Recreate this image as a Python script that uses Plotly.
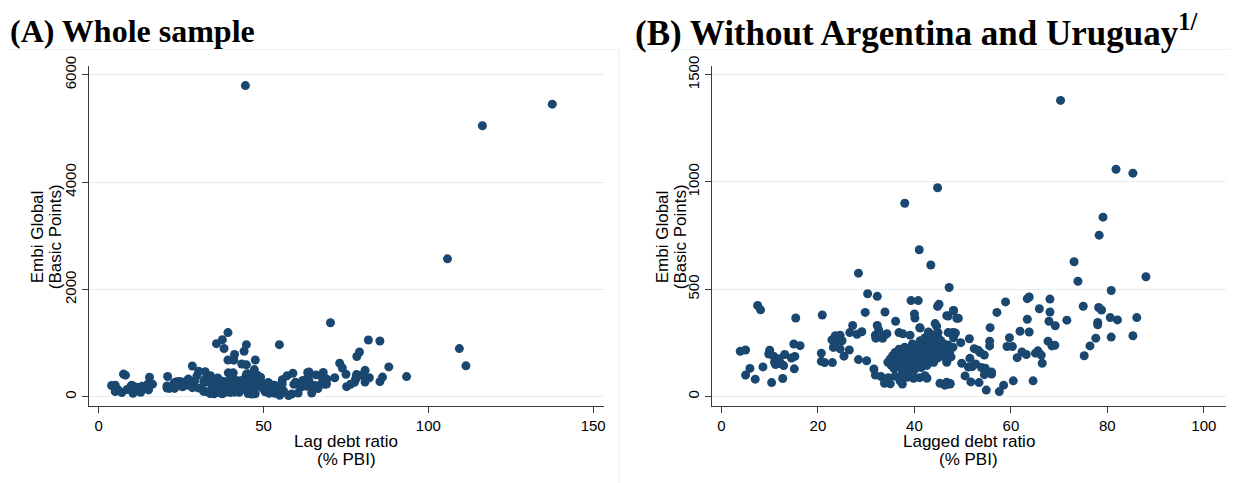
"""
EMBI spread vs lagged debt ratio - two scatter panels (Stata look)
"""
import plotly.graph_objs as go

# Panel B: sample without Argentina and Uruguay (debt % GDP, EMBI bps)
debt_b = [
    3.9, 5.0, 5.9, 5.0, 7.0, 7.5, 8.1, 8.6, 10.0, 9.8, 10.4, 10.8, 11.3, 11.9, 11.2,
    12.2, 13.1, 12.9, 12.7, 14.5, 15.2, 15.0, 16.3, 15.1, 15.4, 11.0, 12.0,
    20.9, 20.7, 20.7, 21.4, 23.0, 22.9, 23.6, 24.3, 24.6, 23.7, 25.0, 23.2, 24.6, 25.4,
    26.5, 26.6, 27.2, 28.1, 29.1, 28.4, 30.1, 28.4, 29.8, 30.3, 32.3, 31.9, 32.3, 32.6,
    32.0, 33.4, 33.8, 34.3, 33.9, 36.1, 36.8, 37.6, 39.1, 31.6, 31.9, 33.1, 33.8, 33.9,
    35.0, 34.6, 37.0, 37.5,
    34.5, 35.0, 35.2, 35.5, 35.8, 36.0, 36.2, 36.5, 36.8, 37.0, 37.2, 37.5, 37.6, 37.8,
    38.0, 38.2, 38.4, 38.6, 38.8, 39.0, 39.2, 39.4, 39.6, 39.8, 40.0, 40.2, 40.4, 40.6,
    40.8, 41.0, 41.2, 41.4, 41.6, 41.8, 42.0, 42.2, 42.4, 42.6, 42.8, 43.0, 43.3, 43.5,
    43.8, 44.0, 44.3, 44.6, 44.9, 45.2, 45.5, 45.8, 46.1, 46.4, 46.7, 47.0, 47.3, 47.6,
    48.0, 36.0, 37.2, 38.5, 39.8, 40.1, 41.1, 42.2, 42.6, 38.6, 37.5, 43.6, 44.3, 45.0,
    46.2, 46.3, 45.1, 43.9, 42.2, 42.9, 41.2, 40.1,
    39.3, 40.8, 40.0, 40.1, 41.1, 42.9, 43.4, 44.3, 44.6, 44.8, 45.1, 46.7, 47.2, 48.1,
    48.8, 44.9, 47.0, 48.1, 45.3, 46.7, 47.0, 41.0, 38.0, 44.8, 41.2, 42.2, 43.6, 44.3,
    46.3, 47.0, 46.7, 46.3, 47.4,
    58.9, 57.1, 63.4, 63.8, 68.1, 65.9, 68.1, 71.6, 67.9, 69.2, 63.4, 63.8, 61.9, 59.7,
    59.2, 60.3, 55.7, 55.6, 55.6, 61.3, 62.3, 63.2, 65.1, 65.6, 66.3, 66.5, 67.7, 68.5,
    69.1, 64.6, 60.5, 58.5, 57.6, 54.9, 53.4, 51.7, 50.5, 49.8, 51.5, 51.2, 52.0, 52.7,
    53.9, 54.7, 54.5, 56.0, 56.0, 54.5, 52.4, 53.2, 53.6, 51.4, 49.6, 48.1, 48.5, 47.6,
    48.1, 49.1, 47.0, 47.0, 47.0, 47.4,
    75.0, 78.2, 78.8, 78.0, 78.0, 80.6, 82.1, 86.1, 77.6, 76.4, 75.2, 80.8, 85.3, 73.1,
    73.9, 88.0, 80.8, 70.3, 81.8, 85.3, 79.1, 78.3,
]
embi_b = [
    211, 217, 131, 100, 81, 424, 404, 138, 216, 198, 65, 188, 169, 176, 149,
    154, 196, 144, 84, 179, 187, 245, 237, 129, 366, 160, 165,
    380, 202, 164, 158, 158, 264, 283, 275, 286, 252, 260, 229, 222, 188,
    217, 298, 331, 290, 302, 172, 167, 575, 392, 479, 467, 286, 331, 310,
    272, 271, 286, 293, 394, 351, 298, 292, 286, 128, 100, 93, 62, 73,
    59, 88, 73, 58,
    160, 175, 145, 190, 130, 205, 165, 150, 220, 180, 140, 200, 120, 165,
    230, 150, 190, 110, 175, 210, 140, 160, 245, 185, 125, 200, 170, 225,
    150, 190, 260, 135, 175, 210, 160, 235, 190, 145, 200, 170, 250, 185,
    215, 160, 200, 240, 180, 215, 260, 190, 230, 205, 160, 240, 210, 185,
    230, 95, 80, 90, 85, 88, 88, 97, 85, 93, 108, 255, 255, 270,
    233, 222, 207, 161, 207, 219, 237, 222,
    447, 447, 385, 366, 321, 301, 613, 340, 328, 420, 430, 377, 508, 401,
    365, 298, 298, 298, 62, 67, 58, 684, 901, 973, 319, 274, 289, 274,
    243, 190, 172, 53, 58,
    441, 392, 456, 464, 454, 409, 394, 356, 351, 330, 360, 301, 304, 274,
    233, 233, 321, 258, 236, 181, 208, 196, 202, 213, 193, 155, 258, 236,
    239, 73, 73, 53, 23, 30, 65, 68, 96, 155, 178, 137, 140, 152,
    135, 132, 193, 114, 105, 102, 223, 216, 205, 269, 251, 274, 296, 296,
    400, 365, 375, 220, 178, 61,
    421, 415, 403, 345, 334, 368, 357, 368, 272, 236, 190, 277, 283, 628,
    537, 558, 494, 1380, 1059, 1041, 836, 752,
]

# Extra observations of Argentina and Uruguay (only in panel A)
debt_au = [44.5, 116.4, 137.6, 105.8, 109.4, 111.4, 93.4, 39.2, 37.5, 35.7,
           44.1, 54.8, 41.2, 39.2, 44.8, 47.5]
embi_au = [5800, 5052, 5454, 2572, 900, 578, 377, 1198, 1064, 991,
           851, 973, 790, 687, 596, 687]

debt_a = debt_b + debt_au
embi_a = embi_b + embi_au

# page has an 8px body margin, so the figure is drawn 8px in from the corner
OFF = 8
W, H = 1239 - OFF, 483 - OFF
DOT = '#1a476f'
GRID = '#e4ecef'
AXIS = '#3a3a3a'
SANS = 'Liberation Sans, Arial, sans-serif'
SERIF = 'Liberation Serif, Times New Roman, serif'


def px_x(p):
    # screen pixel -> paper x
    return (p - OFF) / W


def px_y(p):
    # screen pixel -> paper y
    return 1 - (p - OFF) / H


fig = go.Figure()

fig.add_trace(go.Scatter(
    x=debt_a, y=embi_a, mode='markers', xaxis='x', yaxis='y',
    marker=dict(color=DOT, size=9, line=dict(width=0)),
    showlegend=False, hoverinfo='skip'
))
fig.add_trace(go.Scatter(
    x=debt_b, y=embi_b, mode='markers', xaxis='x2', yaxis='y2',
    marker=dict(color=DOT, size=9, line=dict(width=0)),
    showlegend=False, hoverinfo='skip'
))

ydom = [px_y(404), px_y(56.7)]

common_x = dict(
    showline=True, linecolor=AXIS, linewidth=1, ticks='outside', ticklen=6,
    tickcolor=AXIS, showgrid=False, zeroline=False,
    tickfont=dict(family=SANS, size=15, color='black'),
)
common_y = dict(
    showline=True, linecolor=AXIS, linewidth=1, ticks='outside', ticklen=6,
    tickcolor=AXIS, showgrid=True, gridcolor=GRID, gridwidth=1, zeroline=False,
    tickangle=-90, tickfont=dict(family=SANS, size=15, color='black'),
)

fig.update_layout(
    width=W, height=H,
    margin=dict(l=0, r=0, t=0, b=0),
    paper_bgcolor='white', plot_bgcolor='white',
    xaxis=dict(domain=[px_x(89), px_x(605)], range=[-3.0, 153.3],
               tickvals=[0, 50, 100, 150], anchor='y', **common_x),
    yaxis=dict(domain=ydom, range=[-164, 6171],
               tickvals=[0, 2000, 4000, 6000], anchor='x', **common_y),
    xaxis2=dict(domain=[px_x(713.3), px_x(1228)], range=[-1.93, 104.6],
                tickvals=[0, 20, 40, 60, 80, 100], anchor='y2', **common_x),
    yaxis2=dict(domain=ydom, range=[-42.6, 1542],
                tickvals=[0, 500, 1000, 1500], anchor='x2', **common_y),
)

# graph-region borders
fig.add_shape(type='line', xref='paper', yref='paper',
              x0=px_x(8), x1=px_x(620), y0=px_y(40), y1=px_y(40),
              line=dict(color='#e8eef0', width=1))
fig.add_shape(type='line', xref='paper', yref='paper',
              x0=px_x(620), x1=px_x(620), y0=px_y(40), y1=0,
              line=dict(color='#e8eef0', width=1))
fig.add_shape(type='line', xref='paper', yref='paper',
              x0=px_x(633), x1=1, y0=px_y(40), y1=px_y(40),
              line=dict(color='#e8eef0', width=1))

annots = []
# panel titles
annots.append(dict(text='<b>(A) Whole sample</b>', x=px_x(8), y=px_y(21),
                   xref='paper', yref='paper',
                   xanchor='left', yanchor='middle', showarrow=False,
                   font=dict(family=SERIF, size=32, color='black')))
annots.append(dict(text='<b>(B) Without Argentina and Uruguay<sup>1/</sup></b>',
                   x=px_x(634), y=px_y(21), xref='paper', yref='paper',
                   xanchor='left', yanchor='middle',
                   showarrow=False, font=dict(family=SERIF, size=35, color='black')))

# axis titles
for xc, lines in [(347, ['Lag debt ratio', '(% PBI)']),
                  (970.5, ['Lagged debt ratio', '(% PBI)'])]:
    for i, t in enumerate(lines):
        annots.append(dict(text=t, x=px_x(xc), y=px_y(441 + 18 * i),
                           xref='paper', yref='paper',
                           xanchor='center', yanchor='middle', showarrow=False,
                           font=dict(family=SANS, size=17, color='black')))
for xc in [37, 663]:
    for i, t in enumerate(['Embi Global', '(Basic Points)']):
        annots.append(dict(text=t, x=px_x(xc + 18 * i), y=px_y(231),
                           xref='paper', yref='paper',
                           xanchor='center', yanchor='middle', textangle=-90,
                           showarrow=False,
                           font=dict(family=SANS, size=17, color='black')))

fig.update_layout(annotations=annots)

fig.write_html("out.html")
